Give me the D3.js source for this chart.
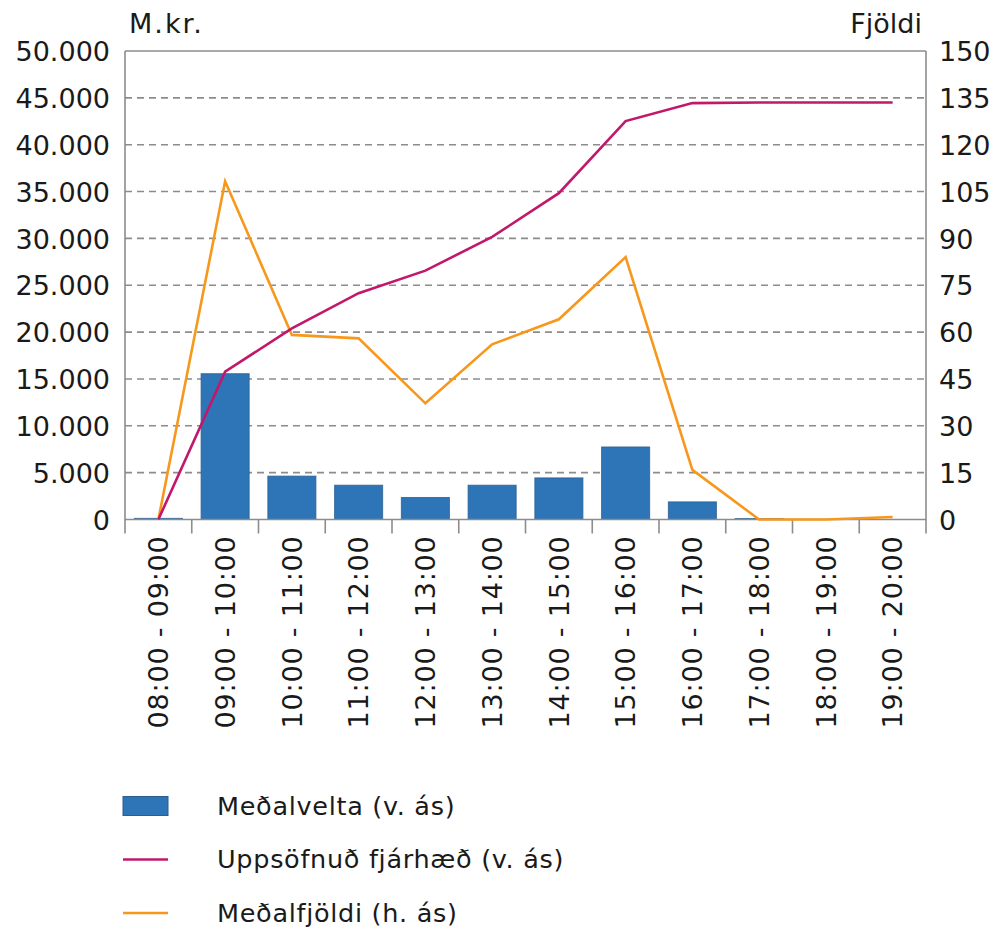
<!DOCTYPE html>
<html>
<head>
<meta charset="utf-8">
<script src="https://cdn.jsdelivr.net/npm/d3@7/dist/d3.min.js"></script>
<style>
  body { margin: 0; background: #fff; }
  svg { display: block; font-family: "DejaVu Sans", sans-serif; }
  .lbl { font-family: "DejaVu Sans", sans-serif; font-size: 27px; fill: #1a1a1a; }
  .xl { letter-spacing: 0.8px; }
  .leg { font-family: "DejaVu Sans", sans-serif; font-size: 25.5px; letter-spacing: 0.7px; fill: #1a1a1a; }
</style>
</head>
<body>
<svg id="chart" width="997" height="929"></svg>
<script>
// hour slots
var hours = ["08:00 - 09:00", "09:00 - 10:00", "10:00 - 11:00", "11:00 - 12:00",
             "12:00 - 13:00", "13:00 - 14:00", "14:00 - 15:00", "15:00 - 16:00",
             "16:00 - 17:00", "17:00 - 18:00", "18:00 - 19:00", "19:00 - 20:00"];
// Meðalvelta (m.kr., left axis)
var turnover = [120, 15560, 4630, 3660, 2350, 3660, 4440, 7740, 1880, 100, 0, 0];
// Uppsöfnuð fjárhæð (m.kr., left axis)
var cumulative = [0, 15770, 20400, 24150, 26560, 30160, 34830, 42520, 44440, 44510, 44510, 44510];
// Meðalfjöldi (right axis)
var count = [0, 108.3, 59.1, 58.0, 37.2, 56.1, 64.1, 84.0, 15.9, 0, 0, 0.8];

var leftTicks = [0, 5000, 10000, 15000, 20000, 25000, 30000, 35000, 40000, 45000, 50000];
var rightTicks = [0, 15, 30, 45, 60, 75, 90, 105, 120, 135, 150];

var legendItems = [
  {label: "Meðalvelta (v. ás)", type: "bar"},
  {label: "Uppsöfnuð fjárhæð (v. ás)", type: "cum"},
  {label: "Meðalfjöldi (h. ás)", type: "cnt"}
];

var colors = {bar: "#2e75b8", barStroke: "#2b5f8e", cum: "#c2186b", cnt: "#f7981d"};

var pLeft = 125, pRight = 926, pTop = 51, pBottom = 519.5;
var svg = d3.select("#chart");

var isl = d3.formatLocale({decimal: ",", thousands: ".", grouping: [3], currency: ["", ""]});
var fmt = isl.format(",d");

var x = d3.scaleBand().domain(hours).range([pLeft, pRight]);
var y = d3.scaleLinear().domain([0, 50000]).range([pBottom, pTop]);
var y2 = d3.scaleLinear().domain([0, 150]).range([pBottom, pTop]);

// gridlines
svg.append("g").selectAll("line")
  .data(leftTicks.filter(function(d){ return d > 0 && d < 50000; }))
  .enter().append("line")
  .attr("x1", pLeft).attr("x2", pRight)
  .attr("y1", function(d){ return y(d); }).attr("y2", function(d){ return y(d); })
  .attr("stroke", "#8c8c8c").attr("stroke-width", 1.6)
  .attr("stroke-dasharray", "7,5");

// bars
var bw = x.bandwidth() * 0.72;
svg.append("g").selectAll("rect")
  .data(turnover)
  .enter().append("rect")
  .attr("x", function(d, i){ return x(hours[i]) + (x.bandwidth() - bw) / 2; })
  .attr("y", function(d){ return y(d); })
  .attr("width", bw)
  .attr("height", function(d){ return pBottom - y(d); })
  .attr("fill", colors.bar)
  .attr("stroke", colors.barStroke).attr("stroke-width", 1)
  .attr("stroke-opacity", function(d){ return d > 0 ? 0.8 : 0; });

// frame
var frame = svg.append("g").attr("stroke", "#8c8c8c").attr("stroke-width", 1.6);
frame.append("line").attr("x1", pLeft).attr("x2", pRight).attr("y1", pTop).attr("y2", pTop);
frame.append("line").attr("x1", pLeft).attr("x2", pRight).attr("y1", pBottom).attr("y2", pBottom);
frame.append("line").attr("x1", pLeft).attr("x2", pLeft).attr("y1", pTop).attr("y2", pBottom + 14);
frame.append("line").attr("x1", pRight).attr("x2", pRight).attr("y1", pTop).attr("y2", pBottom + 14);
frame.selectAll(".tk")
  .data(d3.range(1, hours.length))
  .enter().append("line")
  .attr("x1", function(i){ return pLeft + i * x.step(); })
  .attr("x2", function(i){ return pLeft + i * x.step(); })
  .attr("y1", pBottom).attr("y2", pBottom + 14);

// lines
var lineL = d3.line()
  .x(function(d, i){ return x(hours[i]) + x.bandwidth() / 2; })
  .y(function(d){ return y(d); });
var lineR = d3.line()
  .x(function(d, i){ return x(hours[i]) + x.bandwidth() / 2; })
  .y(function(d){ return y2(d); });

svg.append("path").datum(count)
  .attr("d", lineR).attr("fill", "none")
  .attr("stroke", colors.cnt).attr("stroke-width", 2.6).attr("stroke-linejoin", "miter");
svg.append("path").datum(cumulative)
  .attr("d", lineL).attr("fill", "none")
  .attr("stroke", colors.cum).attr("stroke-width", 2.6).attr("stroke-linejoin", "miter");

// axes
var ax = svg.append("g").attr("transform", "translate(" + (pLeft - 15) + ",0)")
  .call(d3.axisLeft(y).tickValues(leftTicks).tickFormat(fmt).tickSize(0).tickPadding(0));
var ax2 = svg.append("g").attr("transform", "translate(" + (pRight + 13) + ",0)")
  .call(d3.axisRight(y2).tickValues(rightTicks).tickSize(0).tickPadding(0));
var axX = svg.append("g").attr("transform", "translate(0," + (pBottom + 16) + ")")
  .call(d3.axisBottom(x).tickSize(0).tickPadding(0));

[ax, ax2, axX].forEach(function(g){
  g.attr("font-family", null).attr("font-size", null);
  g.select(".domain").remove();
  g.selectAll("text").attr("class", "lbl").attr("fill", null);
});
ax.selectAll("text").attr("dy", "0.36em");
ax2.selectAll("text").attr("dy", "0.36em");
axX.selectAll("text")
  .attr("class", "lbl xl")
  .attr("transform", "rotate(-90)")
  .attr("text-anchor", "end")
  .attr("x", 0).attr("y", 0)
  .attr("dy", "0.36em");

svg.append("text").attr("class", "lbl").attr("x", 129).attr("y", 33)
  .style("letter-spacing", "2px").text("M.kr.");
svg.append("text").attr("class", "lbl").attr("x", 922).attr("y", 33)
  .attr("text-anchor", "end").text("Fjöldi");

// legend
var leg = svg.append("g").selectAll("g")
  .data(legendItems)
  .enter().append("g")
  .attr("transform", function(d, i){ return "translate(123," + (806 + i * 53.5) + ")"; });
leg.each(function(d){
  var g = d3.select(this);
  if (d.type === "bar") {
    g.append("rect").attr("x", 0).attr("y", -9.5).attr("width", 45).attr("height", 19)
      .attr("fill", colors.bar).attr("stroke", colors.barStroke).attr("stroke-width", 1);
  } else {
    g.append("line").attr("x1", 0).attr("x2", 45).attr("y1", 0).attr("y2", 0)
      .attr("stroke", colors[d.type]).attr("stroke-width", 2.6);
  }
  g.append("text").attr("class", "leg").attr("x", 94).attr("dy", "0.35em").text(d.label);
});
</script>
</body>
</html>
